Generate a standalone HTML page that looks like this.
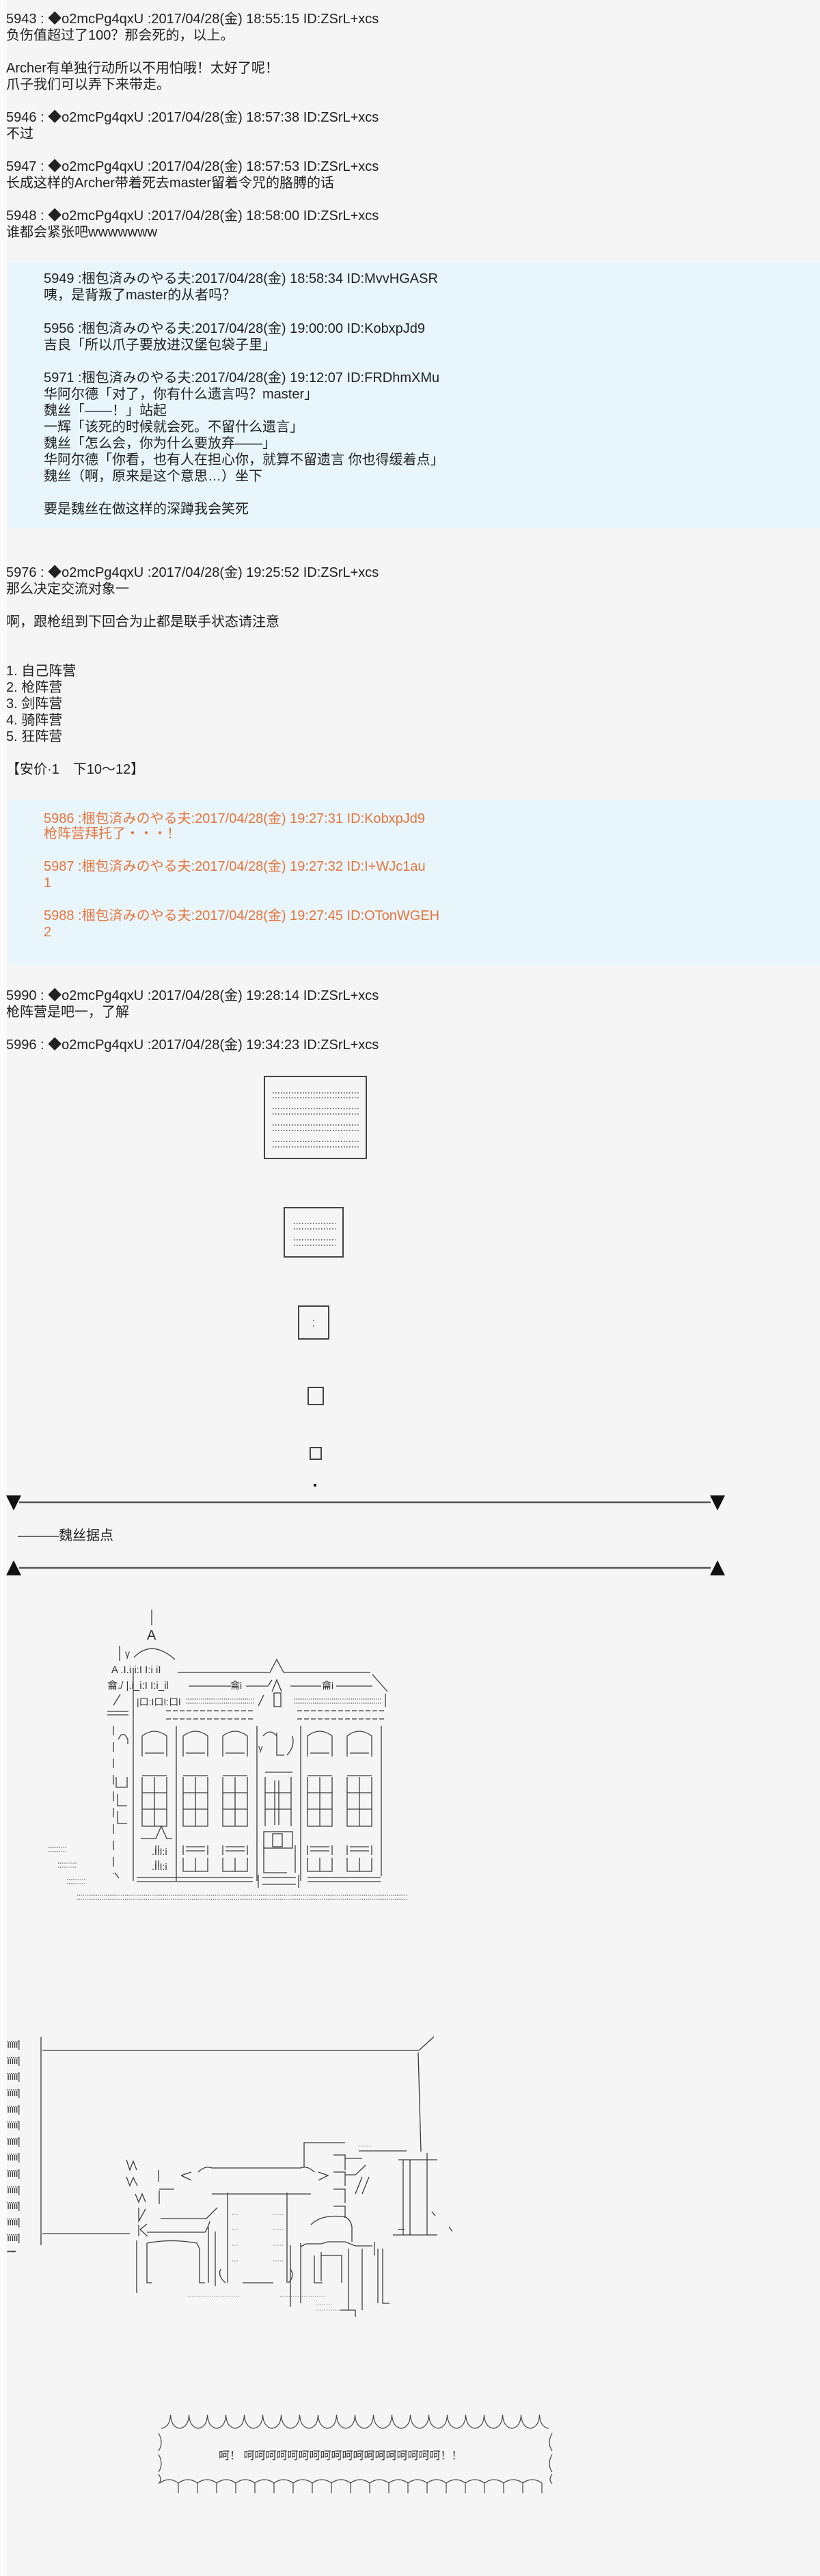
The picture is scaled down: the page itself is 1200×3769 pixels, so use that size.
<!DOCTYPE html>
<html><head><meta charset="utf-8">
<style>
html,body{margin:0;padding:0}
body{width:1200px;height:3769px;background:#f5f5f5;position:relative;overflow:hidden;font-family:"Liberation Sans","Noto Sans CJK SC",sans-serif;font-size:20px;color:#222}
.strip{position:absolute;left:0;top:0;width:10px;height:3769px;background:#fbfbfb}
.blue{position:absolute;left:11px;right:0;background:#e8f6fc}
.l{position:absolute;left:9px;height:24px;line-height:24px;white-space:nowrap}
.i{left:64px}
.o{color:#e8743c}
svg{position:absolute;left:0;top:0}
.aa{font-family:"Liberation Sans","Noto Sans CJK SC",sans-serif;fill:#333}
</style></head><body>
<div class="strip"></div>
<div class="blue" style="top:384px;height:389px"></div>
<div class="blue" style="top:1171px;height:241px"></div>

<div class="l" style="top:16px">5943 : ◆o2mcPg4qxU :2017/04/28(金) 18:55:15 ID:ZSrL+xcs</div>
<div class="l" style="top:40px">负伤值超过了100？那会死的，以上。</div>
<div class="l" style="top:88px">Archer有单独行动所以不用怕哦！太好了呢！</div>
<div class="l" style="top:112px">爪子我们可以弄下来带走。</div>
<div class="l" style="top:160px">5946 : ◆o2mcPg4qxU :2017/04/28(金) 18:57:38 ID:ZSrL+xcs</div>
<div class="l" style="top:184px">不过</div>
<div class="l" style="top:232px">5947 : ◆o2mcPg4qxU :2017/04/28(金) 18:57:53 ID:ZSrL+xcs</div>
<div class="l" style="top:256px">长成这样的Archer带着死去master留着令咒的胳膊的话</div>
<div class="l" style="top:304px">5948 : ◆o2mcPg4qxU :2017/04/28(金) 18:58:00 ID:ZSrL+xcs</div>
<div class="l" style="top:328px">谁都会紧张吧wwwwwww</div>

<div class="l i" style="top:396px">5949 :梱包済みのやる夫:2017/04/28(金) 18:58:34 ID:MvvHGASR</div>
<div class="l i" style="top:420px">咦，是背叛了master的从者吗？</div>
<div class="l i" style="top:469px">5956 :梱包済みのやる夫:2017/04/28(金) 19:00:00 ID:KobxpJd9</div>
<div class="l i" style="top:493px">吉良「所以爪子要放进汉堡包袋子里」</div>
<div class="l i" style="top:541px">5971 :梱包済みのやる夫:2017/04/28(金) 19:12:07 ID:FRDhmXMu</div>
<div class="l i" style="top:565px">华阿尔德「对了，你有什么遗言吗？master」</div>
<div class="l i" style="top:589px">魏丝「——！」站起</div>
<div class="l i" style="top:613px">一辉「该死的时候就会死。不留什么遗言」</div>
<div class="l i" style="top:637px">魏丝「怎么会，你为什么要放弃——」</div>
<div class="l i" style="top:661px">华阿尔德「你看，也有人在担心你，就算不留遗言 你也得缓着点」</div>
<div class="l i" style="top:685px">魏丝（啊，原来是这个意思…）坐下</div>
<div class="l i" style="top:733px">要是魏丝在做这样的深蹲我会笑死</div>

<div class="l" style="top:826px">5976 : ◆o2mcPg4qxU :2017/04/28(金) 19:25:52 ID:ZSrL+xcs</div>
<div class="l" style="top:850px">那么决定交流对象一</div>
<div class="l" style="top:898px">啊，跟枪组到下回合为止都是联手状态请注意</div>
<div class="l" style="top:970px">1. 自己阵营</div>
<div class="l" style="top:994px">2. 枪阵营</div>
<div class="l" style="top:1018px">3. 剑阵营</div>
<div class="l" style="top:1042px">4. 骑阵营</div>
<div class="l" style="top:1066px">5. 狂阵营</div>
<div class="l" style="top:1114px">【安价·1　下10～12】</div>

<div class="l i o" style="top:1186px">5986 :梱包済みのやる夫:2017/04/28(金) 19:27:31 ID:KobxpJd9</div>
<div class="l i o" style="top:1208px">枪阵营拜托了・・・！</div>
<div class="l i o" style="top:1256px">5987 :梱包済みのやる夫:2017/04/28(金) 19:27:32 ID:I+WJc1au</div>
<div class="l i o" style="top:1280px">1</div>
<div class="l i o" style="top:1328px">5988 :梱包済みのやる夫:2017/04/28(金) 19:27:45 ID:OTonWGEH</div>
<div class="l i o" style="top:1352px">2</div>

<div class="l" style="top:1445px">5990 : ◆o2mcPg4qxU :2017/04/28(金) 19:28:14 ID:ZSrL+xcs</div>
<div class="l" style="top:1469px">枪阵营是吧一，了解</div>
<div class="l" style="top:1517px">5996 : ◆o2mcPg4qxU :2017/04/28(金) 19:34:23 ID:ZSrL+xcs</div>

<div class="l" style="top:2235px;left:26px">———魏丝据点</div>

<svg width="1200" height="3769" viewBox="0 0 1200 3769">
<g stroke="#444" fill="none">
 <!-- zoom boxes -->
 <rect x="387" y="1575" width="149" height="120" stroke-width="2"/>
 <g stroke-width="1.5" stroke-dasharray="1.5 2.5">
  <line x1="399" y1="1599" x2="526" y2="1599"/><line x1="399" y1="1606" x2="526" y2="1606"/>
  <line x1="399" y1="1622" x2="526" y2="1622"/><line x1="399" y1="1630" x2="526" y2="1630"/>
  <line x1="399" y1="1646" x2="526" y2="1646"/><line x1="399" y1="1654" x2="526" y2="1654"/>
  <line x1="399" y1="1670" x2="526" y2="1670"/><line x1="399" y1="1678" x2="526" y2="1678"/>
  <line x1="430" y1="1790" x2="491" y2="1790"/><line x1="430" y1="1798" x2="491" y2="1798"/>
  <line x1="430" y1="1814" x2="491" y2="1814"/><line x1="430" y1="1822" x2="491" y2="1822"/>
  <line x1="458" y1="1932" x2="462" y2="1932"/><line x1="458" y1="1940" x2="462" y2="1940"/>
 </g>
 <rect x="416" y="1767" width="86" height="72" stroke-width="2"/>
 <rect x="437" y="1911" width="44" height="48" stroke-width="2"/>
 <rect x="451" y="2030" width="22" height="25" stroke-width="2"/>
 <rect x="454" y="2118" width="16" height="17" stroke-width="2"/>
 <!-- arrows -->
 <line x1="28" y1="2198" x2="1040" y2="2198" stroke-width="2.5" stroke="#555"/>
 <line x1="28" y1="2294" x2="1040" y2="2294" stroke-width="2.5" stroke="#555"/>
</g>
<rect x="459" y="2171" width="4" height="4" fill="#222"/>
<g fill="#111">
 <polygon points="9,2188 31,2188 20,2210"/><polygon points="1039,2188 1061,2188 1050,2210"/>
 <polygon points="9,2305 31,2305 20,2283"/><polygon points="1039,2305 1061,2305 1050,2283"/>
</g>

<!-- building -->
<g stroke="#3a3a3a" fill="none" stroke-width="1.3">
 <line x1="222" y1="2355" x2="222" y2="2378"/>
 <path d="M196,2425 Q222,2398 256,2428"/>
 <line x1="175" y1="2408" x2="175" y2="2430"/>
 <line x1="260" y1="2447" x2="395" y2="2447"/><line x1="415" y1="2447" x2="542" y2="2447"/>
 <path d="M395,2447 L405,2428 L415,2447"/>
 <path d="M398,2475 L405,2458 L412,2475"/>
 <line x1="545" y1="2450" x2="567" y2="2475"/>
 <line x1="276" y1="2467" x2="338" y2="2467"/><line x1="360" y1="2467" x2="392" y2="2467"/>
 <line x1="392" y1="2467" x2="398" y2="2458"/>
 <line x1="425" y1="2467" x2="470" y2="2467"/><line x1="492" y1="2467" x2="545" y2="2467"/>
 <line x1="378" y1="2496" x2="386" y2="2480"/>
 <rect x="401" y="2477" width="10" height="20"/>
 <line x1="564" y1="2478" x2="564" y2="2498"/>
 <line x1="166" y1="2495" x2="176" y2="2479"/>
 <line x1="157" y1="2504" x2="188" y2="2504"/><line x1="157" y1="2509" x2="188" y2="2509"/>
 <line x1="243" y1="2503" x2="373" y2="2503" stroke-dasharray="7 3"/><line x1="243" y1="2515" x2="373" y2="2515" stroke-dasharray="7 3"/>
 <line x1="435" y1="2503" x2="565" y2="2503" stroke-dasharray="7 3"/><line x1="435" y1="2515" x2="565" y2="2515" stroke-dasharray="7 3"/>
 <!-- walls -->
 <line x1="195" y1="2440" x2="195" y2="2752"/>
 <line x1="166" y1="2525" x2="166" y2="2742" stroke-dasharray="14 10"/>
 <line x1="258" y1="2525" x2="258" y2="2752"/>
 <line x1="376" y1="2525" x2="376" y2="2752"/>
 <line x1="440" y1="2525" x2="440" y2="2752"/>
 <line x1="558" y1="2525" x2="558" y2="2745"/>
 <!-- arched windows -->
 <path d="M208,2570 V2540 Q226,2526 244,2540 V2570 M212,2565 H240"/>
 <path d="M268,2570 V2540 Q286,2526 304,2540 V2570 M272,2565 H300"/>
 <path d="M326,2570 V2540 Q344,2526 362,2540 V2570 M330,2565 H358"/>
 <path d="M450,2570 V2540 Q468,2526 486,2540 V2570 M454,2565 H482"/>
 <path d="M508,2570 V2540 Q526,2526 544,2540 V2570 M512,2565 H540"/>
 <path d="M173,2545 Q180,2530 187,2545 V2552"/>
 <path d="M385,2540 Q395,2528 405,2540 M405,2535 V2568 H416 M420,2568 Q432,2555 428,2540"/>
 <!-- grid windows -->
 <path d="M208,2598 H244 M208,2600 V2672 H244 V2600 M208,2623 H244 M208,2647 H244 M226,2600 V2672"/>
 <path d="M268,2598 H304 M268,2600 V2672 H304 V2600 M268,2623 H304 M268,2647 H304 M286,2600 V2672"/>
 <path d="M326,2598 H362 M326,2600 V2672 H362 V2600 M326,2623 H362 M326,2647 H362 M344,2600 V2672"/>
 <path d="M450,2598 H486 M450,2600 V2672 H486 V2600 M450,2623 H486 M450,2647 H486 M468,2600 V2672"/>
 <path d="M508,2598 H544 M508,2600 V2672 H544 V2600 M508,2623 H544 M508,2647 H544 M526,2600 V2672"/>
 <path d="M388,2593 H428 M388,2600 V2672 M426,2600 V2672 M402,2605 V2670 M408,2605 V2670 M388,2623 H426 M388,2647 H426"/>
 <path d="M170,2600 V2615 H186 V2600 M172,2625 V2642 H186 M172,2650 V2668 H186"/>
 <rect x="386" y="2680" width="42" height="24"/><rect x="399" y="2683" width="14" height="19"/>
 <path d="M206,2690 H228 L236,2672 L244,2690 H252"/>
 <!-- lower windows -->
 <path d="M268,2700 V2714 M304,2700 V2714 M272,2702 H300 M272,2708 H300 M268,2718 V2738 H304 V2718 M286,2718 V2738"/>
 <path d="M326,2700 V2714 M362,2700 V2714 M330,2702 H358 M330,2708 H358 M326,2718 V2738 H362 V2718 M344,2718 V2738"/>
 <path d="M450,2700 V2714 M486,2700 V2714 M454,2702 H482 M454,2708 H482 M450,2718 V2738 H486 V2718 M468,2718 V2738"/>
 <path d="M508,2700 V2714 M544,2700 V2714 M512,2702 H540 M512,2708 H540 M508,2718 V2738 H544 V2718 M526,2718 V2738"/>
 <path d="M386,2700 V2740 H420 M432,2700 V2740"/>
 <path d="M228,2700 V2712 M232,2700 V2712 M228,2722 V2734 M232,2722 V2734"/>
 <!-- base -->
 <path d="M200,2747 H370 M200,2753 H370 M450,2747 H557 M450,2753 H557"/>
 <path d="M378,2743 V2762 M384,2747 H433 M384,2757 H433 M437,2743 V2762"/>
 <path d="M168,2740 L174,2748"/>
</g>
<g stroke="#555" stroke-width="1.2" stroke-dasharray="1.2 1.6" fill="none">
 <line x1="113" y1="2773" x2="597" y2="2773"/><line x1="113" y1="2779" x2="597" y2="2779"/>
 <line x1="70" y1="2703" x2="97" y2="2703"/><line x1="70" y1="2709" x2="97" y2="2709"/>
 <line x1="85" y1="2726" x2="112" y2="2726"/><line x1="85" y1="2732" x2="112" y2="2732"/>
 <line x1="98" y1="2750" x2="126" y2="2750"/><line x1="98" y1="2756" x2="126" y2="2756"/>
 <line x1="272" y1="2486" x2="372" y2="2486"/><line x1="272" y1="2492" x2="372" y2="2492"/>
 <line x1="430" y1="2486" x2="558" y2="2486"/><line x1="430" y1="2492" x2="558" y2="2492"/>
</g>
<text class="aa" x="215" y="2399" font-size="20">A</text>
<text class="aa" x="183" y="2424" font-size="14">γ</text>
<text class="aa" x="163" y="2448" font-size="15">A .I.i i:I I:i iI</text>
<text class="aa" x="157" y="2471" font-size="15">龠./ |.i_i:I I:i_il</text>
<text class="aa" x="337" y="2471" font-size="14">龠i</text><text class="aa" x="471" y="2471" font-size="14">龠i</text>
<text class="aa" x="200" y="2495" font-size="14">|口:I口I:口l</text>
<text class="aa" x="378" y="2562" font-size="13">γ</text>
<text class="aa" x="222" y="2714" font-size="14">.I:I:i</text>
<text class="aa" x="222" y="2736" font-size="14">.I:I:i</text>

<!-- second scene -->
<g class="aa" font-size="15" letter-spacing="-1">
 <text x="10" y="2996">ïïïïï|</text><text x="10" y="3020">ïïïïï|</text><text x="10" y="3043">ïïïïï|</text>
 <text x="10" y="3067">ïïïïï|</text><text x="10" y="3091">ïïïïï|</text><text x="10" y="3114">ïïïïï|</text>
 <text x="10" y="3138">ïïïïï|</text><text x="10" y="3161">ïïïïï|</text><text x="10" y="3185">ïïïïï|</text>
 <text x="10" y="3209">ïïïïï|</text><text x="10" y="3232">ïïïïï|</text><text x="10" y="3256">ïïïïï|</text>
 <text x="10" y="3279">ïïïïï|</text><text x="10" y="3300" font-size="10">''''''''''''''</text>
</g>
<g stroke="#3a3a3a" fill="none" stroke-width="1.3">
 <line x1="60" y1="2980" x2="60" y2="3285"/>
 <line x1="62" y1="3000" x2="613" y2="3000"/>
 <line x1="613" y1="3000" x2="635" y2="2980"/>
 <line x1="612" y1="3003" x2="616" y2="3148"/>
 <line x1="62" y1="3268" x2="190" y2="3268"/>
 <!-- left chair -->
 <path d="M232,3175 V3192 M233,3205 V3225 M233,3203 H255"/>
 <path d="M290,3178 Q300,3168 310,3172 H440 Q450,3168 460,3178"/>
 <path d="M265,3183 L280,3178 M265,3183 L280,3190"/>
 <path d="M466,3178 L480,3183 L466,3190"/>
 <path d="M235,3246 H302 L318,3230 M215,3266 H300 Q305,3258 307,3250"/>
 <path d="M200,3278 V3355 M215,3282 V3340 H222 M215,3282 Q250,3275 288,3282 L292,3290 V3340 H300 M305,3258 V3340 M315,3265 V3345"/>
 <!-- table -->
 <path d="M310,3210 H455 M333,3208 V3340 M420,3208 V3340"/>
 <path d="M323,3320 Q318,3330 330,3340 M425,3320 Q432,3330 422,3340 M355,3340 H400"/>
 <path d="M425,3285 V3375 M440,3282 V3370 M460,3300 V3340 H472 M470,3295 V3338"/>
 <!-- right chair -->
 <path d="M445,3170 V3135 H505 M525,3147 H595"/>
 <path d="M488,3153 H505 V3175 M488,3178 H505 V3198 M488,3203 H505 V3223 M488,3228 H505 V3245"/>
 <path d="M505,3158 H530 M505,3182 H520 L535,3168 M530,3185 L520,3210 M540,3185 L530,3210"/>
 <path d="M590,3160 V3270 M600,3160 V3270 M625,3150 V3270 M583,3160 H640 M575,3270 H640 M582,3262 H592"/>
 <path d="M455,3255 Q470,3240 500,3243 Q512,3243 515,3258 V3280"/>
 <path d="M440,3287 L448,3283 H470 L480,3280 H505 L520,3286 H545 M548,3280 V3300"/>
 <path d="M510,3290 V3380 M530,3290 V3380 M553,3290 V3370 M560,3290 V3370 H570"/>
 <path d="M470,3300 H500 V3340"/>
 <path d="M497,3380 H520 V3390"/>
 <path d="M632,3236 L637,3242 M657,3258 L662,3265"/>
 <path d="M185,3160 L190,3175 L195,3162 L200,3175 M185,3185 L190,3198 L195,3186 L201,3198 M198,3210 L203,3222 L208,3210 L213,3222 M203,3230 V3250 L213,3232 M203,3255 V3272 M205,3262 L215,3254 M205,3262 L216,3272"/>
</g>
<g stroke="#666" stroke-width="1.1" stroke-dasharray="1.2 2" fill="none">
 <line x1="340" y1="3240" x2="348" y2="3240"/><line x1="340" y1="3262" x2="348" y2="3262"/><line x1="340" y1="3285" x2="348" y2="3285"/><line x1="340" y1="3308" x2="348" y2="3308"/>
 <line x1="400" y1="3240" x2="415" y2="3240"/><line x1="400" y1="3262" x2="415" y2="3262"/><line x1="400" y1="3285" x2="415" y2="3285"/><line x1="400" y1="3308" x2="415" y2="3308"/>
 <line x1="275" y1="3360" x2="350" y2="3360"/><line x1="410" y1="3360" x2="475" y2="3360"/>
 <line x1="462" y1="3380" x2="498" y2="3380"/><line x1="462" y1="3372" x2="485" y2="3372"/>
 <line x1="525" y1="3140" x2="545" y2="3140"/>
</g>

<!-- bubble -->
<g stroke="#444" fill="none" stroke-width="1.2">
 <path d="M236,3553 q13,-2 13.5,-20 q1,18 13.5,20 q13,-2 13.5,-20 q1,18 13.5,20 q13,-2 13.5,-20 q1,18 13.5,20 q13,-2 13.5,-20 q1,18 13.5,20 q13,-2 13.5,-20 q1,18 13.5,20 q13,-2 13.5,-20 q1,18 13.5,20 q13,-2 13.5,-20 q1,18 13.5,20 q13,-2 13.5,-20 q1,18 13.5,20 q13,-2 13.5,-20 q1,18 13.5,20 q13,-2 13.5,-20 q1,18 13.5,20 q13,-2 13.5,-20 q1,18 13.5,20 q13,-2 13.5,-20 q1,18 13.5,20 q13,-2 13.5,-20 q1,18 13.5,20 q13,-2 13.5,-20 q1,18 13.5,20 q13,-2 13.5,-20 q1,18 13.5,20 q13,-2 13.5,-20 q1,18 13.5,20 q13,-2 13.5,-20 q1,18 13.5,20 q13,-2 13.5,-20 q1,18 13.5,20 q13,-2 13.5,-20 q1,18 13.5,20 q13,-2 13.5,-20 q1,18 13.5,20 q13,-2 13.5,-20 q1,18 13.5,20"/>
 <path d="M232,3560 q8,14 0,26 M232,3591 q8,14 0,26 M232,3620 q6,8 0,14 M808,3560 q-8,14 0,26 M808,3591 q-8,14 0,26 M808,3620 q-6,8 0,14"/>
 <path d="M234,3633 q13,-10 27,0 q14,-10 28,0 q14,-10 28,0 q14,-10 28,0 q14,-10 28,0 q14,-10 28,0 q14,-10 28,0 q14,-10 28,0 q14,-10 28,0 q14,-10 28,0 q14,-10 28,0 q14,-10 28,0 q14,-10 28,0 q14,-10 28,0 q14,-10 28,0 q14,-10 28,0 q14,-10 28,0 q14,-10 28,0 q14,-10 28,0 q14,-10 28,0"/>
 <path d="M261,3633 V3648 M289,3633 V3648 M317,3633 V3648 M345,3633 V3648 M373,3633 V3648 M401,3633 V3648 M429,3633 V3648 M457,3633 V3648 M485,3633 V3648 M513,3633 V3648 M541,3633 V3648 M569,3633 V3648 M597,3633 V3648 M625,3633 V3648 M653,3633 V3648 M681,3633 V3648 M709,3633 V3648 M737,3633 V3648 M765,3633 V3648 M793,3633 V3648"/>
</g>
<text class="aa" x="320" y="3598" font-size="16" font-family="Liberation Sans,Noto Sans CJK SC,sans-serif">呵！ 呵呵呵呵呵呵呵呵呵呵呵呵呵呵呵呵呵呵！！</text>
</svg>
</body></html>
